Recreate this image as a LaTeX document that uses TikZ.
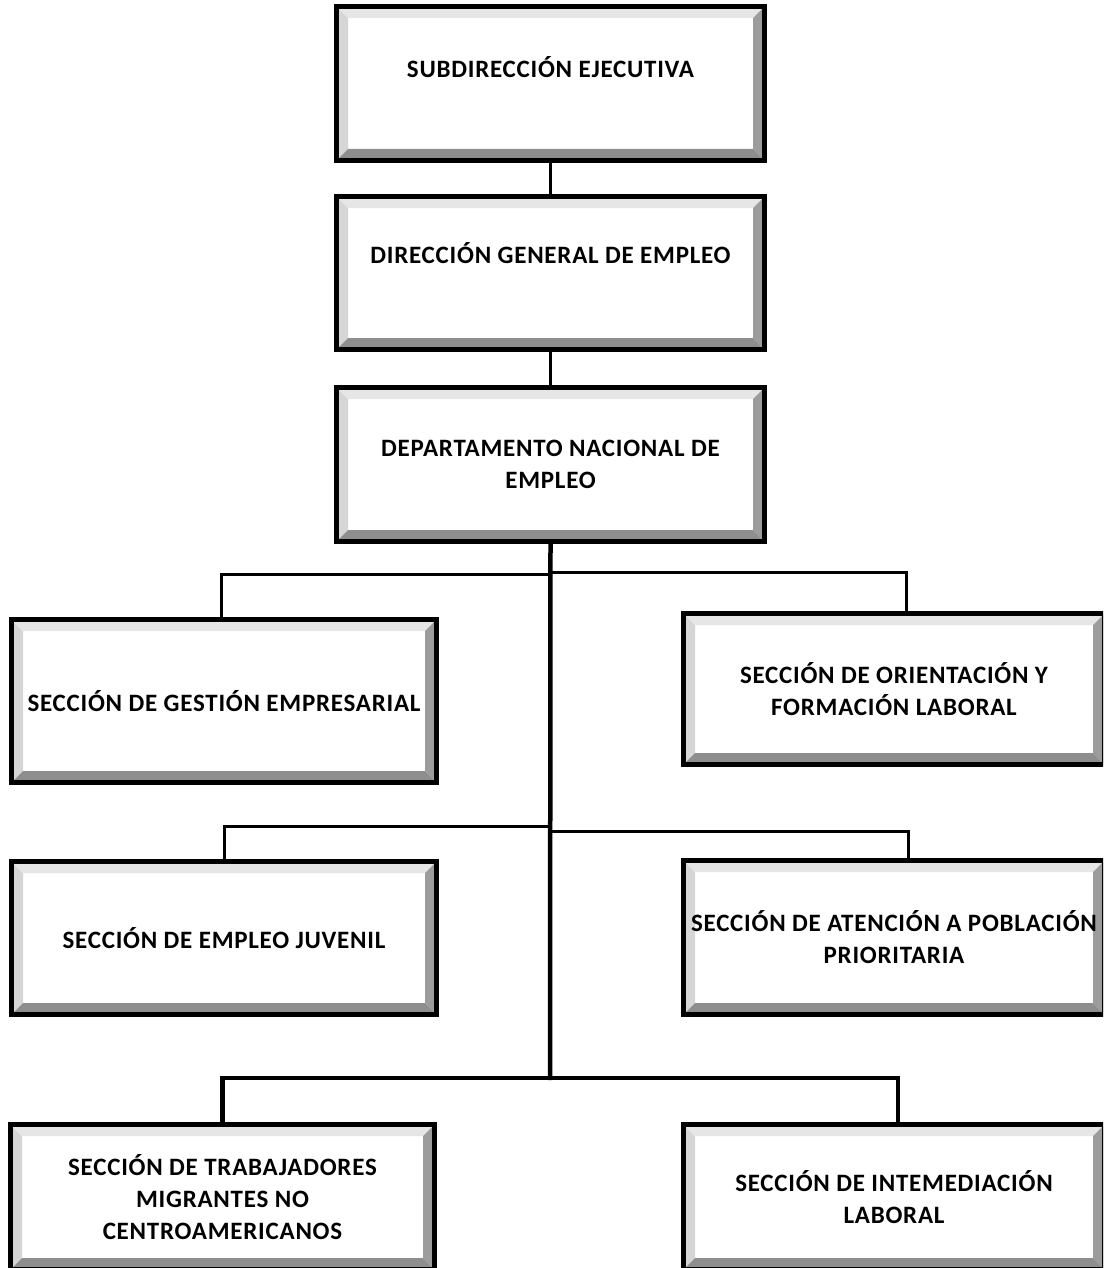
\documentclass[tikz,border=0pt]{standalone}
\usepackage{fontspec}
\setmainfont{Carlito}[LetterSpace=3]
\usetikzlibrary{calc}
\definecolor{bevT}{HTML}{E6E6E6}
\definecolor{bevL}{HTML}{D6D6D6}
\definecolor{bevR}{HTML}{9C9C9C}
\definecolor{bevB}{HTML}{8E8E8E}
\tikzset{
  bev/.style={rectangle, draw=black, line width=5pt, fill=white, inner sep=0pt,
    align=center, font=\bfseries\fontsize{25}{32}\selectfont,
    path picture={
      \path (path picture bounding box.south west) coordinate (pSW)
            (path picture bounding box.north east) coordinate (pNE);
      \path (pSW|-pNE) coordinate (pNW) (pNE|-pSW) coordinate (pSE);
      \fill[bevL] (pSW) -- (pNW) -- ($(pNW)+(11.5pt,-11.5pt)$) -- ($(pSW)+(11.5pt,11.5pt)$) -- cycle;
      \fill[bevT] (pNW) -- (pNE) -- ($(pNE)+(-11.5pt,-11.5pt)$) -- ($(pNW)+(11.5pt,-11.5pt)$) -- cycle;
      \fill[bevR] (pNE) -- (pSE) -- ($(pSE)+(-11.5pt,11.5pt)$) -- ($(pNE)+(-11.5pt,-11.5pt)$) -- cycle;
      \fill[bevB] (pSE) -- (pSW) -- ($(pSW)+(11.5pt,11.5pt)$) -- ($(pSE)+(-11.5pt,11.5pt)$) -- cycle;
    }},
  conn/.style={draw=black, line width=3pt},
  trunkline/.style={draw=black, line width=4.5pt},
}
\newcommand\orgbox[6]{%
  \node[bev, minimum width={(#4-#2-5)*1pt}, minimum height={(#5-#3-5)*1pt}]
    (#1) at ({(#2+#4)/2},{(#3+#5)/2}) {#6};}
\begin{document}
\begin{tikzpicture}[x=1pt,y=-1pt]
\useasboundingbox (0,0) rectangle (1103,1268);
\clip (0,0) rectangle (1103,1268);
\fill[white] (0,0) rectangle (1103,1268);

\orgbox{b1}{334}{4}{767}{163}{\raisebox{6pt}[0pt][0pt]{SUBDIRECCIÓN EJECUTIVA}}
\orgbox{b2}{334}{194}{767}{352}{\raisebox{10pt}[0pt][0pt]{DIRECCIÓN GENERAL DE EMPLEO}}
\orgbox{b3}{334}{385}{767}{544}{DEPARTAMENTO NACIONAL DE\\EMPLEO}
\orgbox{ge}{9}{617}{439}{785}{SECCIÓN DE GESTIÓN EMPRESARIAL}
\orgbox{of}{681}{611}{1107}{767}{SECCIÓN DE ORIENTACIÓN Y\\FORMACIÓN LABORAL}
\orgbox{ej}{9}{859}{439}{1017}{SECCIÓN DE EMPLEO JUVENIL}
\orgbox{pp}{681}{858}{1107}{1017}{SECCIÓN DE ATENCIÓN A POBLACIÓN\\PRIORITARIA}
\orgbox{tm}{8}{1122}{437}{1272}{SECCIÓN DE TRABAJADORES\\MIGRANTES NO\\CENTROAMERICANOS}
\orgbox{il}{681}{1122}{1107}{1272}{SECCIÓN DE INTEMEDIACIÓN\\LABORAL}

\coordinate (j1l) at (550,574);
\coordinate (j1r) at (550,572);
\coordinate (j2l) at (550,826);
\coordinate (j2r) at (550,831);
\coordinate (j3) at (550,1078);

\draw[conn] (b1.south) -- (b2.north);
\draw[conn] (b2.south) -- (b3.north);
\draw[trunkline] (b3.south) -- ([yshift=-2pt]j3);
\draw[conn] (j1l) -| ([xshift=-3pt]ge.north);
\draw[conn] (j1r) -| ([xshift=12pt]of.north);
\draw[conn] (j2l) -| (ej.north);
\draw[conn] (j2r) -| ([xshift=14pt]pp.north);
\draw[trunkline] (j3) -| (tm.north);
\draw[trunkline] (j3) -| ([xshift=4pt]il.north);
\end{tikzpicture}
\end{document}
